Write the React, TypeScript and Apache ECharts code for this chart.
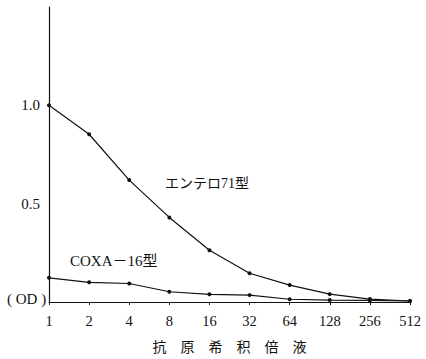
import React, { useEffect, useRef } from "react";
import * as echarts from "echarts";

const categories = ["1", "2", "4", "8", "16", "32", "64", "128", "256", "512"];
const enteroValues = [1.0, 0.853, 0.62, 0.43, 0.263, 0.146, 0.086, 0.04, 0.015, 0.005];
const coxaValues = [0.123, 0.1, 0.094, 0.052, 0.039, 0.035, 0.014, 0.01, 0.008, 0.005];
const enteroName = "エンテロ71型";
const coxaName = "COXA－16型";
const xTitle = "抗　原　希　积　倍　液";
const yUnit = "( OD )";

const FONT = "'Liberation Serif', 'DejaVu Serif', 'Noto Sans CJK JP', serif";

export default function App() {
  const ref = useRef<HTMLDivElement>(null);
  useEffect(() => {
    if (!ref.current) return;
    const chart = echarts.init(ref.current, null, { renderer: "svg" });
    chart.setOption({
      animation: false,
      backgroundColor: "#ffffff",
      grid: { left: 49, right: 16, top: 7, bottom: 53, containLabel: false },
      xAxis: {
        type: "category",
        data: categories,
        boundaryGap: false,
        axisLine: { lineStyle: { color: "#111", width: 1.2 } },
        axisTick: { show: true, length: 3, lineStyle: { color: "#111" } },
        axisLabel: { color: "#111", fontSize: 14.5, fontFamily: FONT, margin: 12 },
        name: xTitle,
        nameLocation: "middle",
        nameGap: 38,
        nameTextStyle: { color: "#111", fontSize: 14, fontFamily: FONT },
        splitLine: { show: false },
      },
      yAxis: {
        type: "value",
        min: 0,
        max: 1.5,
        interval: 0.5,
        axisLine: { show: true, lineStyle: { color: "#111", width: 1.2 } },
        axisTick: { show: false },
        splitLine: { show: false },
        axisLabel: {
          color: "#111",
          fontSize: 15,
          fontFamily: FONT,
          margin: 9,
          formatter: (v: number) => (v === 0.5 ? "0.5" : v === 1 ? "1.0" : ""),
        },
      },
      graphic: [
        {
          type: "text",
          left: 7,
          top: 291,
          style: { text: yUnit, fill: "#111", font: `15px ${FONT}` },
        },
        {
          type: "text",
          left: 165,
          top: 176,
          style: { text: enteroName, fill: "#111", font: `14px ${FONT}` },
        },
        {
          type: "text",
          left: 70,
          top: 253,
          style: { text: coxaName, fill: "#111", font: `15px ${FONT}` },
        },
      ],
      series: [
        {
          name: enteroName,
          type: "line",
          data: enteroValues,
          symbol: "circle",
          symbolSize: 4,
          itemStyle: { color: "#111" },
          lineStyle: { color: "#111", width: 1.2 },
        },
        {
          name: coxaName,
          type: "line",
          data: coxaValues,
          symbol: "circle",
          symbolSize: 4,
          itemStyle: { color: "#111" },
          lineStyle: { color: "#111", width: 1.2 },
        },
      ],
    });
    return () => chart.dispose();
  }, []);
  return <div ref={ref} style={{ width: 426, height: 359, position: "absolute", left: 0, top: 0 }} />;
}
